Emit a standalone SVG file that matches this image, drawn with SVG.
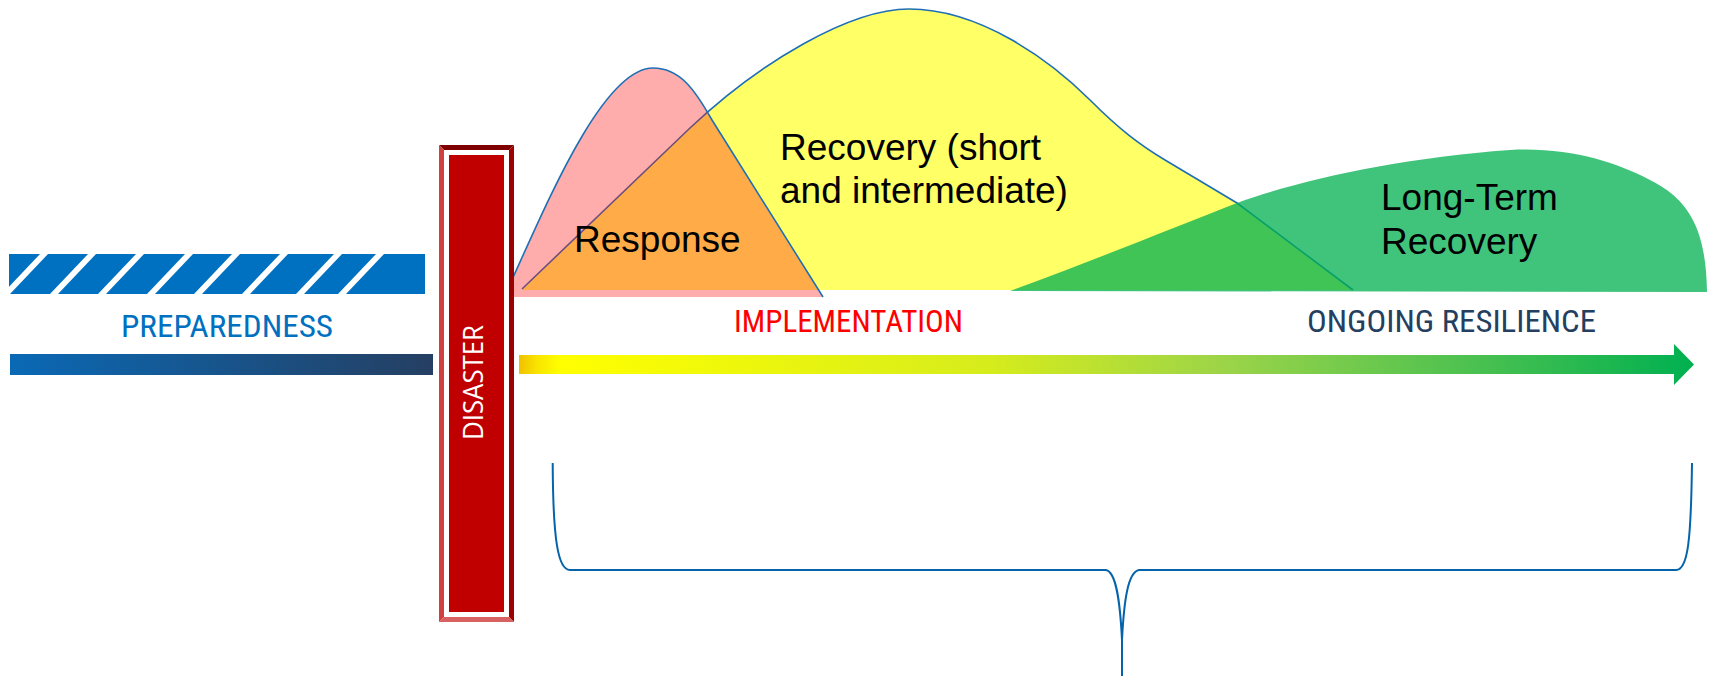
<svg xmlns="http://www.w3.org/2000/svg" width="1709" height="676" viewBox="0 0 1709 676">
<defs>
<linearGradient id="prepGrad" x1="10" y1="0" x2="433" y2="0" gradientUnits="userSpaceOnUse">
<stop offset="0" stop-color="#0a69b5"/>
<stop offset="1" stop-color="#253f62"/>
</linearGradient>
<linearGradient id="implGrad" x1="519" y1="0" x2="1694" y2="0" gradientUnits="userSpaceOnUse">
<stop offset="0" stop-color="#f0c000"/>
<stop offset="0.015" stop-color="#f8e400"/>
<stop offset="0.035" stop-color="#ffff00"/>
<stop offset="0.4" stop-color="#d6ec1c"/>
<stop offset="0.6" stop-color="#9cd448"/>
<stop offset="0.8" stop-color="#50c250"/>
<stop offset="1" stop-color="#00b050"/>
</linearGradient>
<clipPath id="hatchClip"><rect x="9" y="254" width="416" height="40"/></clipPath>
<style>
.cap{font-family:"Liberation Sans Narrow","Roboto Condensed","Liberation Sans",Arial,sans-serif;font-size:32px;}
.big{font-family:"Liberation Sans",Arial,sans-serif;font-size:37px;fill:#000;}
.curve{fill:none;stroke:#1f6fb5;stroke-width:1.6;}
.brace{fill:none;stroke:#0563aa;stroke-width:2;}
.stripe{fill:#ffffff;}
</style>
</defs>
<rect width="1709" height="676" fill="#ffffff"/>

<g id="recovery">
<path d="M522,290 L690,128 C760,62 850,9 909,9 C980,9 1050,60 1090,100 C1120,130 1140,145 1165,160 L1237,203 L1353,290 Z" fill="#ffff66"/>
<path class="curve" d="M522,289 L690,128 C760,62 850,9 909,9 C980,9 1050,60 1090,100 C1120,130 1140,145 1165,160 L1237,203 L1353,290"/>
<text class="big" x="780" y="160">Recovery (short</text>
<text class="big" x="780" y="203">and intermediate)</text>
</g>

<g id="long-term-recovery">
<path d="M1010,291 C1100,258 1180,225 1237,203 C1300,180 1400,158 1510,150 C1570,147 1615,162 1650,180 C1690,200 1706,230 1707,292 Z" fill="#00b050" fill-opacity="0.75"/>
<text class="big" x="1381" y="210">Long-Term</text>
<text class="big" x="1381" y="254">Recovery</text>
</g>

<g id="response">
<path d="M505,297 C540,220 600,68 653,68 C680,68 695,90 712,120 L823,297 Z" fill="#ff1010" fill-opacity="0.35"/>
<path class="curve" d="M505,295 C540,220 600,68 653,68 C680,68 695,90 712,120 L823,297"/>
<text class="big" x="574" y="252">Response</text>
</g>

<g id="preparedness">
<rect x="9" y="254" width="416" height="40" fill="#0070c0"/>
<g clip-path="url(#hatchClip)">
<polygon class="stripe" points="2,294 10,294 48,254 40,254"/>
<polygon class="stripe" points="50,294 58,294 96,254 88,254"/>
<polygon class="stripe" points="98,294 106,294 144,254 136,254"/>
<polygon class="stripe" points="147,294 155,294 193,254 185,254"/>
<polygon class="stripe" points="194,294 202,294 240,254 232,254"/>
<polygon class="stripe" points="242,294 250,294 288,254 280,254"/>
<polygon class="stripe" points="296,294 304,294 342,254 334,254"/>
<polygon class="stripe" points="338,294 346,294 384,254 376,254"/>
</g>
<text class="cap" x="121" y="337" fill="#0070c0" textLength="212" lengthAdjust="spacingAndGlyphs">PREPAREDNESS</text>
<rect x="10" y="354" width="423" height="21" fill="url(#prepGrad)"/>
</g>

<g id="disaster">
<polygon points="439,145 514,145 509,150 444,150" fill="#7f0000"/>
<polygon points="514,145 514,622 509,617 509,150" fill="#9e0000"/>
<polygon points="439,622 514,622 509,617 444,617" fill="#d86262"/>
<polygon points="439,145 444,150 444,617 439,622" fill="#d04040"/>
<rect x="444" y="150" width="65" height="467" fill="#ffffff"/>
<rect x="449" y="155" width="55" height="457" fill="#c00000"/>
<text transform="translate(483,440) rotate(-90)" x="0" y="0" font-family="'Open Sans','Noto Sans','Liberation Sans',sans-serif" font-size="27" fill="#ffffff" textLength="115" lengthAdjust="spacingAndGlyphs">DISASTER</text>
</g>

<g id="implementation">
<text class="cap" x="734" y="332" fill="#ff0000" textLength="229" lengthAdjust="spacingAndGlyphs">IMPLEMENTATION</text>
</g>

<g id="ongoing-resilience">
<text class="cap" x="1307" y="332" fill="#243f60" textLength="289" lengthAdjust="spacingAndGlyphs">ONGOING RESILIENCE</text>
</g>

<g id="connectors">
<polygon points="519,355 1674,355 1674,344 1694,364.5 1674,385 1674,374 519,374" fill="url(#implGrad)"/>
<path class="brace" d="M552.7,463 C553,540 558,570 570,570 L1106,570 C1116,572 1120,600 1122,640 L1122,676"/>
<path class="brace" d="M1692,463 C1691,540 1688,570 1676,570 L1139,570 C1128,572 1124,600 1122,640"/>
</g>
</svg>
